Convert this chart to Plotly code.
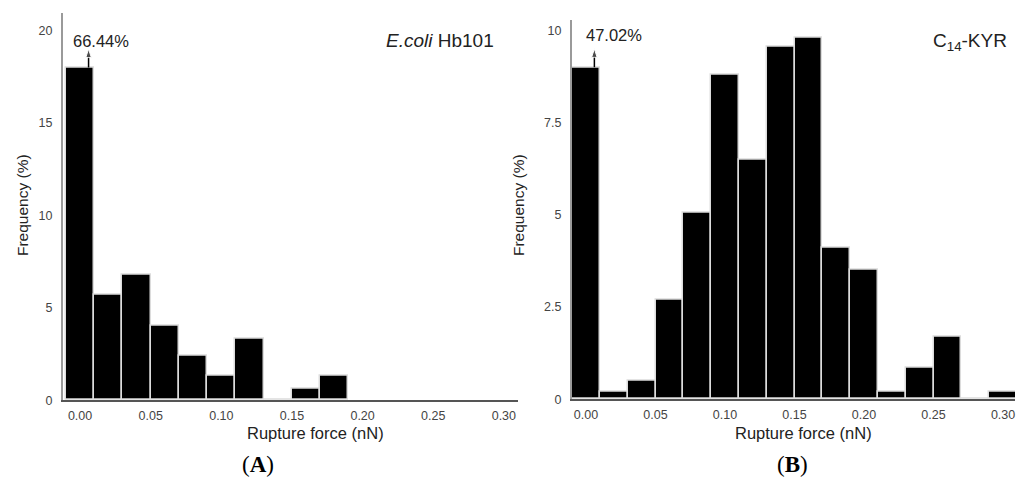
import plotly.graph_objects as go

# ---- data ----
bin_centers_a = [0.00, 0.02, 0.04, 0.06, 0.08, 0.10, 0.12, 0.14, 0.16, 0.18]
freq_a = [18.0, 5.7, 6.8, 4.0, 2.4, 1.3, 3.3, 0.0, 0.6, 1.3]

bin_centers_b = [0.00, 0.02, 0.04, 0.06, 0.08, 0.10, 0.12, 0.14, 0.16, 0.18,
                 0.20, 0.22, 0.24, 0.26, 0.28, 0.30]
freq_b = [9.0, 0.2, 0.5, 2.7, 5.05, 8.8, 6.5, 9.55, 9.8, 4.1,
          3.5, 0.2, 0.85, 1.7, 0.0, 0.2]

x_ticks = [0.00, 0.05, 0.10, 0.15, 0.20, 0.25, 0.30]
x_ticktext = ["0.00", "0.05", "0.10", "0.15", "0.20", "0.25", "0.30"]
y_ticks_a = [0, 5, 10, 15, 20]
y_ticktext_a = ["0", "5", "10", "15", "20"]
y_ticks_b = [0, 2.5, 5, 7.5, 10]
y_ticktext_b = ["0", "2.5", "5", "7.5", "10"]

overflow_a = "66.44%"
overflow_b = "47.02%"
arrow_top_a = 19.0
arrow_top_b = 9.5
arrow_x = 0.006

W, H = 1032, 488
FONT = "Liberation Sans, Arial, sans-serif"

fig = go.Figure()
fig.add_trace(go.Bar(x=bin_centers_a, y=freq_a, width=0.02, xaxis="x", yaxis="y",
                     marker=dict(color="black", line=dict(color="#dcdcdc", width=1.5)),
                     showlegend=False, hoverinfo="skip"))
fig.add_trace(go.Bar(x=bin_centers_b, y=freq_b, width=0.02, xaxis="x2", yaxis="y2",
                     marker=dict(color="black", line=dict(color="#dcdcdc", width=1.5)),
                     showlegend=False, hoverinfo="skip"))
# overflow arrows
fig.add_trace(go.Scatter(x=[arrow_x, arrow_x], y=[freq_a[0], arrow_top_a], xaxis="x", yaxis="y",
                         mode="lines+markers", line=dict(color="black", width=1.5),
                         marker=dict(symbol="arrow", angleref="previous", size=[0, 9], color="black"),
                         showlegend=False, hoverinfo="skip"))
fig.add_trace(go.Scatter(x=[arrow_x, arrow_x], y=[freq_b[0], arrow_top_b], xaxis="x2", yaxis="y2",
                         mode="lines+markers", line=dict(color="black", width=1.5),
                         marker=dict(symbol="arrow", angleref="previous", size=[0, 9], color="black"),
                         showlegend=False, hoverinfo="skip"))

def px(v):
    return v / W

def py(v):
    return 1 - v / H

xcommon = dict(showgrid=False, zeroline=False, showline=True, linecolor="#555", linewidth=1.5,
               ticks="", tickvals=x_ticks, ticktext=x_ticktext,
               tickfont=dict(family=FONT, size=12.5, color="#444"), ticklabelstandoff=3)
ycommon = dict(showgrid=False, zeroline=False, showline=True, linecolor="#9a9a9a", linewidth=2,
               ticks="", tickfont=dict(family=FONT, size=12.5, color="#444"), ticklabelstandoff=6)

fig.update_layout(
    width=W, height=H, margin=dict(l=0, r=0, t=0, b=0),
    paper_bgcolor="white", plot_bgcolor="white", bargap=0,
    xaxis=dict(domain=[px(63), px(518)], range=[-0.0121, 0.31], anchor="y", **xcommon),
    yaxis=dict(domain=[py(406), py(13)], range=[0, 20.96], anchor="x",
               tickvals=y_ticks_a, ticktext=y_ticktext_a, **ycommon),
    xaxis2=dict(domain=[px(572), px(1015)], range=[-0.0101, 0.3086], anchor="y2", **xcommon),
    yaxis2=dict(domain=[py(405), py(20)], range=[0, 10.29], anchor="x2",
                tickvals=y_ticks_b, ticktext=y_ticktext_b, **ycommon),
)

ann = []
ann.append(dict(x=px(71), y=py(42), xref="paper", yref="paper", text=overflow_a, showarrow=False,
                xanchor="left", yanchor="middle", font=dict(family=FONT, size=16.5, color="#222")))
ann.append(dict(x=px(584), y=py(36), xref="paper", yref="paper", text=overflow_b, showarrow=False,
                xanchor="left", yanchor="middle", font=dict(family=FONT, size=16.5, color="#222")))
# panel labels inside plots
ann.append(dict(x=px(496), y=py(41), xref="paper", yref="paper", text="<i>E.coli</i> Hb101",
                showarrow=False, xanchor="right", yanchor="middle",
                font=dict(family=FONT, size=19, color="#222")))
ann.append(dict(x=px(1009), y=py(43), xref="paper", yref="paper", text="C<sub>14</sub>-KYR",
                showarrow=False, xanchor="right", yanchor="middle",
                font=dict(family=FONT, size=19, color="#222")))
# axis titles
for xc, yc in [(22, 208), (518, 208)]:
    ann.append(dict(x=px(xc), y=py(yc), xref="paper", yref="paper", text="Frequency (%)",
                    textangle=-90, showarrow=False, xanchor="center", yanchor="middle",
                    font=dict(family=FONT, size=15.5, color="#222")))
for xc in [315, 803]:
    ann.append(dict(x=px(xc), y=py(439), xref="paper", yref="paper", text="Rupture force (nN)",
                    showarrow=False, xanchor="center", yanchor="middle",
                    font=dict(family=FONT, size=16.5, color="#222")))
# subfigure labels
ann.append(dict(x=px(258), y=py(471), xref="paper", yref="paper", text="(<b>A</b>)",
                showarrow=False, xanchor="center", yanchor="middle",
                font=dict(family="Liberation Serif, Times New Roman, serif", size=23, color="black")))
ann.append(dict(x=px(792), y=py(471), xref="paper", yref="paper", text="(<b>B</b>)",
                showarrow=False, xanchor="center", yanchor="middle",
                font=dict(family="Liberation Serif, Times New Roman, serif", size=23, color="black")))

fig.update_layout(annotations=ann)
fig.write_html("out.html")
